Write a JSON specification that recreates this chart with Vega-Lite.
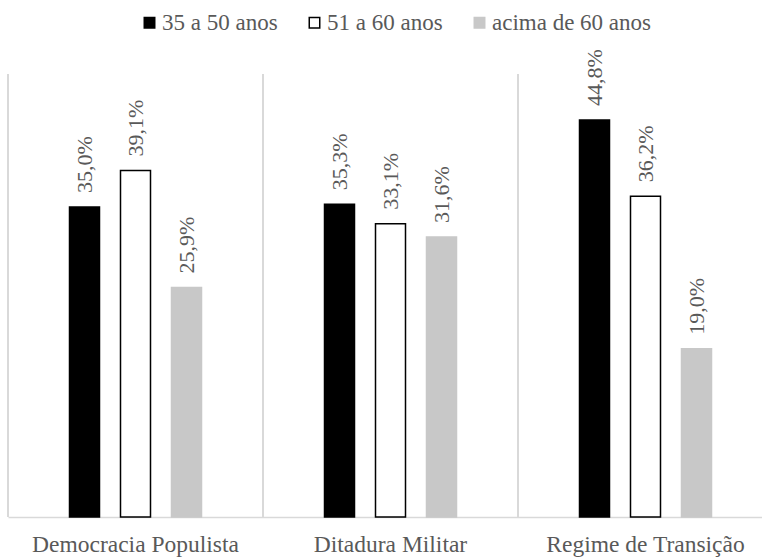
{
  "$schema": "https://vega.github.io/schema/vega-lite/v6.json",
  "width": 765,
  "height": 443,
  "autosize": {"type": "none"},
  "padding": {"left": 8, "top": 74, "right": 0, "bottom": 41},
  "background": "white",
  "config": {
    "view": {"stroke": null},
    "font": "Liberation Serif",
    "locale": {"number": {"decimal": ",", "thousands": ".", "grouping": [3], "currency": ["R$", ""]}},
    "axisX": {"domainColor": "#d9d9d9", "domainWidth": 1.5, "ticks": false, "grid": false, "labelFont": "Liberation Serif", "labelFontSize": 23.5, "labelColor": "#595959", "labelPadding": 15, "labelAngle": 0, "labelLimit": 400}
  },
  "data": {
    "values": [
      {"regime": "Democracia Populista", "idade": "35 a 50 anos", "valor": 0.350},
      {"regime": "Democracia Populista", "idade": "51 a 60 anos", "valor": 0.391},
      {"regime": "Democracia Populista", "idade": "acima de 60 anos", "valor": 0.259},
      {"regime": "Ditadura Militar", "idade": "35 a 50 anos", "valor": 0.353},
      {"regime": "Ditadura Militar", "idade": "51 a 60 anos", "valor": 0.331},
      {"regime": "Ditadura Militar", "idade": "acima de 60 anos", "valor": 0.316},
      {"regime": "Regime de Transição", "idade": "35 a 50 anos", "valor": 0.448},
      {"regime": "Regime de Transição", "idade": "51 a 60 anos", "valor": 0.362},
      {"regime": "Regime de Transição", "idade": "acima de 60 anos", "valor": 0.190}
    ]
  },
  "layer": [
    {
      "mark": {"type": "rule", "color": "#d9d9d9", "strokeWidth": 1.5},
      "encoding": {
        "x": {"field": "regime", "type": "nominal", "bandPosition": 0, "title": null, "scale": {"paddingInner": 0, "paddingOuter": 0}}
      }
    },
    {
      "mark": {"type": "bar", "strokeWidth": 1.5, "width": 30},
      "encoding": {
        "x": {"field": "regime", "type": "nominal", "title": null, "scale": {"paddingInner": 0, "paddingOuter": 0}},
        "xOffset": {"field": "idade", "type": "nominal", "scale": {"paddingInner": 0, "paddingOuter": 1}},
        "y": {"field": "valor", "type": "quantitative", "axis": null, "scale": {"domain": [0, 0.5], "nice": false}},
        "color": {
          "field": "idade", "type": "nominal",
          "scale": {"range": ["#000000", "#ffffff", "#c8c8c8"]},
          "legend": {
            "title": null, "orient": "none", "legendX": 130, "legendY": -63,
            "direction": "horizontal", "symbolType": "square", "symbolSize": 110,
            "symbolStrokeWidth": 1.5, "labelFont": "Liberation Serif", "labelFontSize": 23, "labelColor": "#595959",
            "labelOffset": 1, "columnPadding": 25, "padding": 0, "labelLimit": 400
          }
        },
        "stroke": {
          "field": "idade", "type": "nominal",
          "scale": {"range": ["#000000", "#000000", "#c8c8c8"]},
          "legend": {
            "title": null, "orient": "none", "legendX": 130, "legendY": -63,
            "direction": "horizontal", "symbolType": "square", "symbolSize": 110,
            "symbolStrokeWidth": 1.5, "labelFont": "Liberation Serif", "labelFontSize": 23, "labelColor": "#595959",
            "labelOffset": 1, "columnPadding": 25, "padding": 0, "labelLimit": 400
          }
        }
      }
    },
    {
      "mark": {"type": "text", "font": "Liberation Serif", "angle": 270, "align": "left", "baseline": "middle", "dx": 14, "fontSize": 22, "color": "#595959"},
      "encoding": {
        "x": {"field": "regime", "type": "nominal", "title": null, "scale": {"paddingInner": 0, "paddingOuter": 0}},
        "xOffset": {"field": "idade", "type": "nominal", "scale": {"paddingInner": 0, "paddingOuter": 1}},
        "y": {"field": "valor", "type": "quantitative", "axis": null, "scale": {"domain": [0, 0.5], "nice": false}},
        "text": {"field": "valor", "type": "quantitative", "format": ".1%"}
      }
    }
  ]
}
